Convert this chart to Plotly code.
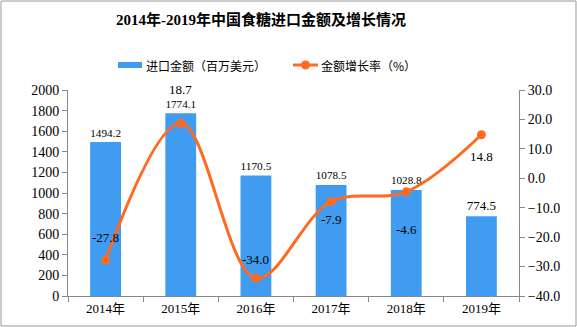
import plotly.graph_objects as go

years = ["2014年", "2015年", "2016年", "2017年", "2018年", "2019年"]
import_value = [1494.2, 1774.1, 1170.5, 1078.5, 1028.8, 774.5]
growth_rate = [-27.8, 18.7, -34.0, -7.9, -4.6, 14.8]
growth_label_shift = [23, 34, 19, -18, -38, -22]
left_ticks = list(range(0, 2001, 200))
right_ticks = list(range(-40, 31, 10))
bar_name = "进口金额（百万美元）"
line_name = "金额增长率（%）"

W, H = 577, 327
ML, MR, MT, MB = 68, 58, 90, 31
PW, PH = W - ML - MR, H - MT - MB

SERIF = "Liberation Serif, Noto Sans CJK SC, serif"
CJK = "Noto Sans CJK SC"
BLUE = "#409cf0"
ORANGE = "#ff6a21"
AXIS = "#888888"


def px_x(px):
    return (px - ML) / PW


def px_y(py):
    return (H - MB - py) / PH


fig = go.Figure()
fig.add_trace(go.Bar(
    x=years, y=import_value, name=bar_name,
    marker=dict(color=BLUE, line=dict(width=0)), width=0.41,
    text=[f"{v:.1f}" for v in import_value], textposition="outside",
    textfont=dict(family=SERIF, size=13, color="#000"), cliponaxis=False,
    yaxis="y", showlegend=False,
))
fig.add_trace(go.Scatter(
    x=years, y=growth_rate, name=line_name, yaxis="y2",
    mode="lines+markers", line=dict(color=ORANGE, width=3, shape="spline", smoothing=1.0),
    marker=dict(color=ORANGE, size=9), cliponaxis=False, showlegend=False,
))
for yr, g, s in zip(years, growth_rate, growth_label_shift):
    fig.add_annotation(x=yr, y=g, yref="y2", text=f"{g:.1f}", showarrow=False,
                       yshift=s, font=dict(family=SERIF, size=13, color="#000"))

# manual legend
LY = 65
fig.add_shape(type="rect", xref="paper", yref="paper",
              x0=px_x(118), x1=px_x(142), y0=px_y(LY + 3), y1=px_y(LY - 3),
              fillcolor=BLUE, line=dict(width=0))
fig.add_annotation(xref="paper", yref="paper", x=px_x(144), y=px_y(LY), xanchor="left", yanchor="middle",
                   text=bar_name, showarrow=False, font=dict(family=CJK, size=12, color="#000"))
fig.add_shape(type="line", xref="paper", yref="paper",
              x0=px_x(293), x1=px_x(318), y0=px_y(LY), y1=px_y(LY),
              line=dict(color=ORANGE, width=3))
fig.add_shape(type="circle", xref="paper", yref="paper",
              x0=px_x(301), x1=px_x(310), y0=px_y(LY + 4.5), y1=px_y(LY - 4.5),
              fillcolor=ORANGE, line=dict(width=0))
fig.add_annotation(xref="paper", yref="paper", x=px_x(319), y=px_y(LY), xanchor="left", yanchor="middle",
                   text=line_name, showarrow=False, font=dict(family=CJK, size=12, color="#000"))

fig.add_shape(type="rect", xref="paper", yref="paper",
              x0=px_x(1), x1=px_x(576), y0=px_y(326), y1=px_y(1),
              line=dict(color="#999999", width=1), layer="below")

fig.update_layout(
    width=W, height=H, margin=dict(l=ML, r=MR, t=MT, b=MB, autoexpand=False),
    paper_bgcolor="white", plot_bgcolor="white",
    title=dict(text="<b>2014年-2019年中国食糖进口金额及增长情况</b>", x=px_x(261), xref="paper",
               xanchor="center", y=1 - 20 / H, yanchor="middle",
               font=dict(family=SERIF, size=15, color="#000")),
    bargap=0.59,
    showlegend=False,
    xaxis=dict(showline=True, linecolor=AXIS, linewidth=1, ticks="outside", tickson="boundaries",
               ticklen=5, tickcolor=AXIS, showgrid=False,
               tickfont=dict(family=SERIF, size=13, color="#000")),
    yaxis=dict(range=[0, 2000], tickvals=left_ticks, showline=True, linecolor=AXIS, linewidth=1,
               ticks="outside", ticklen=5, tickcolor=AXIS, showgrid=False, zeroline=False,
               tickfont=dict(family=SERIF, size=14, color="#000")),
    yaxis2=dict(range=[-40, 30], tickvals=right_ticks, tickformat=".1f", overlaying="y", side="right",
                showline=True, linecolor=AXIS, linewidth=1, ticks="outside", ticklen=5, tickcolor=AXIS,
                showgrid=False, zeroline=False,
                tickfont=dict(family=SERIF, size=14, color="#000")),
)

fig.write_html("out.html")
